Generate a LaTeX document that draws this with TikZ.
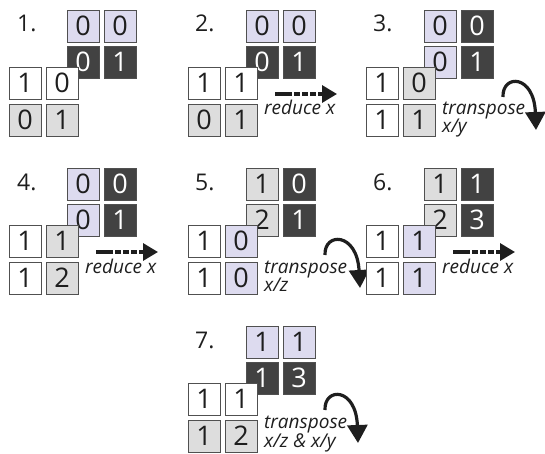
\documentclass[tikz,border=0pt]{standalone}
\usepackage{fontspec}
\setmainfont{Open Sans}
\usetikzlibrary{arrows.meta}

\definecolor{lavcol}{RGB}{221,219,239}
\definecolor{darkcol}{RGB}{66,66,66}
\definecolor{greycol}{RGB}{221,221,221}
\definecolor{edgecol}{RGB}{80,80,80}
\definecolor{inkcol}{RGB}{30,30,30}

% one cell of a 2x2 grid: name, x, y, style, digit
\newcommand\cellat[5]{\node[#4] (#1) at (#2,#3) {#5};}

\begin{document}
\begin{tikzpicture}[x=1pt,y=-1pt,
  cell/.style={draw=edgecol, line width=0.8pt, minimum size=32pt, inner sep=0pt,
    text=inkcol, font=\fontsize{27}{29}\selectfont},
  wht/.style={cell, fill=white},
  lav/.style={cell, fill=lavcol},
  gry/.style={cell, fill=greycol},
  drk/.style={cell, fill=darkcol, text=white},
  steplabel/.style={anchor=base west, inner sep=0pt, text=inkcol,
    font=\fontsize{23}{25}\selectfont},
  oplabel/.style={anchor=base west, inner sep=0pt, text=inkcol,
    font=\fontsize{19}{21}\selectfont\itshape},
  reducearrow/.style={line width=3.2pt, draw=inkcol,
    dash pattern=on 17pt off 2pt on 6pt off 2pt on 6pt off 2pt on 6pt off 2pt on 30pt,
    -{Triangle[length=15pt,width=17pt]}},
  transarrow/.style={line width=3.2pt, draw=inkcol,
    -{Triangle[length=18pt,width=20pt]}}
]
\useasboundingbox (0,0) rectangle (545,454);

% ---- step 1 ----
\begin{scope}[shift={(0,0)}]
  \node[steplabel] (n1) at (17,32) {1.};
  \cellat{a1}{83}{26}{lav}{0} \cellat{a2}{120}{26}{lav}{0}
  \cellat{a3}{83}{62}{drk}{0} \cellat{a4}{120}{62}{drk}{1}
  \cellat{b1}{25}{83}{wht}{1} \cellat{b2}{62}{83}{wht}{0}
  \cellat{b3}{25}{120}{gry}{0} \cellat{b4}{62}{120}{gry}{1}
\end{scope}

% ---- step 2 ----
\begin{scope}[shift={(179,0)}]
  \node[steplabel] (n2) at (16,32) {2.};
  \cellat{c1}{83}{26}{lav}{0} \cellat{c2}{120}{26}{lav}{0}
  \cellat{c3}{83}{62}{drk}{0} \cellat{c4}{120}{62}{drk}{1}
  \cellat{d1}{25}{83}{wht}{1} \cellat{d2}{62}{83}{wht}{1}
  \cellat{d3}{25}{120}{gry}{0} \cellat{d4}{62}{120}{gry}{1}
  \coordinate (r2s) at (96,94); \coordinate (r2e) at (158,94);
  \draw[reducearrow] (r2s) -- (r2e);
  \node[oplabel] (o2) at (85,115) {reduce x};
\end{scope}

% ---- step 3 ----
\begin{scope}[shift={(357,0)}]
  \node[steplabel] (n3) at (16,32) {3.};
  \cellat{e1}{83}{26}{lav}{0} \cellat{e2}{120}{26}{drk}{0}
  \cellat{e3}{83}{62}{lav}{0} \cellat{e4}{120}{62}{drk}{1}
  \cellat{f1}{25}{83}{wht}{1} \cellat{f2}{62}{83}{gry}{0}
  \cellat{f3}{25}{120}{wht}{1} \cellat{f4}{62}{120}{gry}{1}
  \coordinate (t3s) at (146,97); \coordinate (t3e) at (179,130);
  \draw[transarrow] (t3s) .. controls (145,74) and (177,74) .. (t3e);
  \node[oplabel] (o3) at (85,115) {transpose};
  \node[oplabel] (o3b) at (85,133) {x/y};
\end{scope}

% ---- step 4 ----
\begin{scope}[shift={(0,158)}]
  \node[steplabel] (n4) at (17,32) {4.};
  \cellat{g1}{83}{26}{lav}{0} \cellat{g2}{120}{26}{drk}{0}
  \cellat{g3}{83}{62}{lav}{0} \cellat{g4}{120}{62}{drk}{1}
  \cellat{h1}{25}{83}{wht}{1} \cellat{h2}{62}{83}{gry}{1}
  \cellat{h3}{25}{120}{wht}{1} \cellat{h4}{62}{120}{gry}{2}
  \coordinate (r4s) at (96,94); \coordinate (r4e) at (158,94);
  \draw[reducearrow] (r4s) -- (r4e);
  \node[oplabel] (o4) at (85,115) {reduce x};
\end{scope}

% ---- step 5 ----
\begin{scope}[shift={(179,158)}]
  \node[steplabel] (n5) at (16,32) {5.};
  \cellat{i1}{83}{26}{gry}{1} \cellat{i2}{120}{26}{drk}{0}
  \cellat{i3}{83}{62}{gry}{2} \cellat{i4}{120}{62}{drk}{1}
  \cellat{j1}{25}{83}{wht}{1} \cellat{j2}{62}{83}{lav}{0}
  \cellat{j3}{25}{120}{wht}{1} \cellat{j4}{62}{120}{lav}{0}
  \coordinate (t5s) at (146,97); \coordinate (t5e) at (181,130);
  \draw[transarrow] (t5s) .. controls (145,74) and (178,74) .. (t5e);
  \node[oplabel] (o5) at (85,115) {transpose};
  \node[oplabel] (o5b) at (85,133) {x/z};
\end{scope}

% ---- step 6 ----
\begin{scope}[shift={(357,158)}]
  \node[steplabel] (n6) at (16,32) {6.};
  \cellat{k1}{83}{26}{gry}{1} \cellat{k2}{120}{26}{drk}{1}
  \cellat{k3}{83}{62}{gry}{2} \cellat{k4}{120}{62}{drk}{3}
  \cellat{l1}{25}{83}{wht}{1} \cellat{l2}{62}{83}{lav}{1}
  \cellat{l3}{25}{120}{wht}{1} \cellat{l4}{62}{120}{lav}{1}
  \coordinate (r6s) at (96,94); \coordinate (r6e) at (158,94);
  \draw[reducearrow] (r6s) -- (r6e);
  \node[oplabel] (o6) at (85,115) {reduce x};
\end{scope}

% ---- step 7 ----
\begin{scope}[shift={(179,316)}]
  \node[steplabel] (n7) at (16,32) {7.};
  \cellat{m1}{83}{26}{lav}{1} \cellat{m2}{120}{26}{lav}{1}
  \cellat{m3}{83}{62}{drk}{1} \cellat{m4}{120}{62}{drk}{3}
  \cellat{q1}{25}{83}{wht}{1} \cellat{q2}{62}{83}{wht}{1}
  \cellat{q3}{25}{120}{gry}{1} \cellat{q4}{62}{120}{gry}{2}
  \coordinate (t7s) at (146,94); \coordinate (t7e) at (179,127);
  \draw[transarrow] (t7s) .. controls (145,71) and (177,71) .. (t7e);
  \node[oplabel] (o7) at (85,112) {transpose};
  \node[oplabel] (o7b) at (85,131) {x/z \& x/y};
\end{scope}
\end{tikzpicture}
\end{document}
